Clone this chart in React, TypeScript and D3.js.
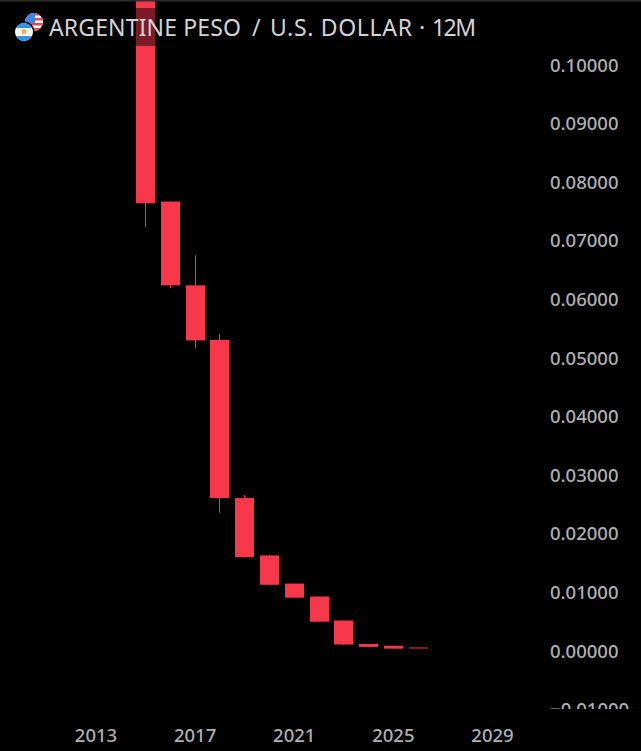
import * as d3 from "d3";

// yearly candles, values
const years = [2015, 2016, 2017, 2018, 2019, 2020, 2021, 2022, 2023, 2024, 2025, 2026];
const opens = [0.1215, 0.0767, 0.0624, 0.0531, 0.0261, 0.0163, 0.0115, 0.0093, 0.0052, 0.0012, 0.0009, 0.0006];
const closes = [0.0764, 0.0624, 0.0530, 0.0261, 0.0160, 0.0113, 0.0091, 0.0050, 0.0011, 0.0007, 0.0004, 0.0005];
const highs = [0.1215, 0.0767, 0.0675, 0.0541, 0.0266, 0.0164, 0.0115, 0.0093, 0.0052, 0.0012, 0.0009, 0.0006];
const lows = [0.0723, 0.0619, 0.0517, 0.0236, 0.0160, 0.0113, 0.0091, 0.0050, 0.0011, 0.0007, 0.0004, 0.0005];
const yTicks = [0.1, 0.09, 0.08, 0.07, 0.06, 0.05, 0.04, 0.03, 0.02, 0.01, 0, -0.01];
const xTicks = [2013, 2017, 2021, 2025, 2029];
const titleParts: [string, number, number][] = [["ARGENTINE PESO", 49, 192], ["/", 252, 9], ["U.S. DOLLAR", 270, 142], ["·", 419, 6], ["12M", 432, 44]];

const RED = "#f7374a";
const FONT = "'Noto Sans', sans-serif";

export default function App() {
  const x = d3.scaleLinear().domain([2013, 2029]).range([96, 492.5]);
  const y = d3.scaleLinear().domain([0, 0.1]).range([651, 65]);
  const bw = 19;
  const cx = (yr: number) => Math.floor(x(yr)) + 0.5;

  return (
    <svg width={641} height={751} style={{ position: "fixed", left: 0, top: 0, background: "#000" }}>
      <rect width={641} height={751} fill="#000" />
      <defs>
        <clipPath id="pane"><rect x={0} y={0} width={641} height={709} /></clipPath>
        <clipPath id="us"><circle cx={34} cy={22} r={9} /></clipPath>
        <clipPath id="ar"><circle cx={24} cy={32} r={9} /></clipPath>
      </defs>
      <g>
        {years.map((yr, i) => (
          <g key={yr}>
            <line x1={cx(yr)} x2={cx(yr)} y1={y(highs[i])} y2={y(lows[i])} stroke={RED} strokeWidth={1} />
            <rect
              x={cx(yr) - bw / 2}
              y={y(Math.max(opens[i], closes[i]))}
              width={bw}
              height={Math.max(1, Math.abs(y(opens[i]) - y(closes[i])))}
              fill={RED}
            />
          </g>
        ))}
      </g>
      {/* axis labels, clipped at the bottom like the original pane */}
      <g clipPath="url(#pane)" fontFamily={FONT} fontSize={18.5} fontWeight={500} fill="#b0b0b0">
        {yTicks.map((t) => (
          <text key={t} x={550} y={y(t) + 6.5}>{t < 0 ? "\u2212" : ""}{Math.abs(t).toFixed(5)}</text>
        ))}
      </g>
      <g fontFamily={FONT} fontSize={18.5} fontWeight={500} fill="#b0b0b0" textAnchor="middle">
        {xTicks.map((t) => (
          <text key={t} x={x(t)} y={742}>{t}</text>
        ))}
      </g>
      {/* title strip dims whatever sits behind it */}
      <rect x={12} y={8} width={468} height={38} fill="#000" opacity={0.5} />
      <g clipPath="url(#us)">
        <rect x={25} y={13} width={18} height={18} fill="#fff" />
        {[13, 18, 23, 28].map((sy) => <rect key={sy} x={25} y={sy} width={18} height={2.5} fill="#f0444f" />)}
        <rect x={25} y={13} width={10} height={10} fill="#3b86e6" />
      </g>
      <circle cx={24} cy={32} r={10.5} fill="#000" />
      <g clipPath="url(#ar)">
        <rect x={15} y={23} width={18} height={18} fill="#fff" />
        <rect x={15} y={23} width={18} height={5} fill="#2c97e8" />
        <rect x={15} y={36} width={18} height={5} fill="#2c97e8" />
        <circle cx={24} cy={31.5} r={2.5} fill="#f5b33c" />
      </g>
      <g fontFamily={FONT} fontSize={23} fill="#d4d4d4">
        {titleParts.map(([s, px, len]) => <text key={s} x={px} y={36} textLength={len} lengthAdjust="spacing">{s}</text>)}
      </g>
      <rect x={0} y={0} width={641} height={1.5} fill="#2c2c2c" />
    </svg>
  );
}
